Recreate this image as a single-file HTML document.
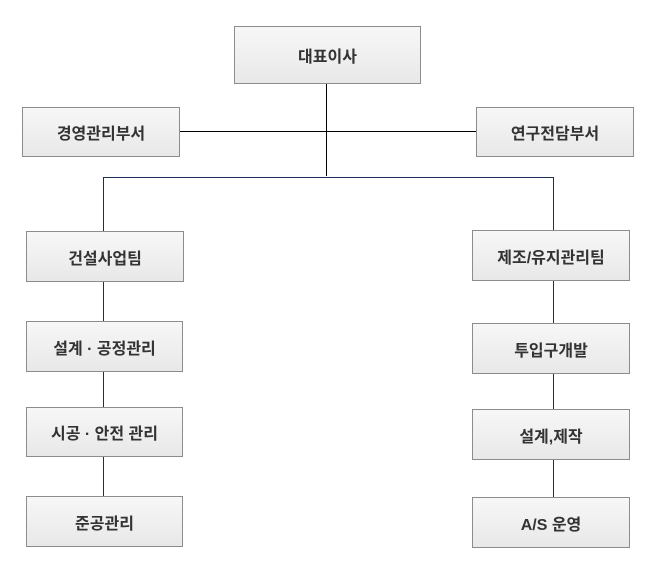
<!DOCTYPE html>
<html><head><meta charset="utf-8"><style>
body{margin:0;width:657px;height:561px;background:#fff;position:relative;overflow:hidden;font-family:"Liberation Sans","Noto Sans CJK KR","NanumGothic",sans-serif}
.b{position:absolute;box-sizing:border-box;border:1px solid #8c8c8c;background:linear-gradient(#f7f7f7,#e8e8e8);display:flex;align-items:center;justify-content:center;font-weight:bold;font-size:16px;color:#333}
.l{position:absolute}
</style></head><body>
<div class="l" style="left:326px;top:84px;width:1px;height:92px;background:#000"></div>
<div class="l" style="left:179px;top:131px;width:297px;height:1px;background:#000"></div>
<div class="l" style="left:103px;top:177px;width:451px;height:1px;background:#1f2d5a"></div>
<div class="l" style="left:103px;top:177px;width:1px;height:320px;background:#1f2d5a"></div>
<div class="l" style="left:553px;top:177px;width:1px;height:320px;background:#1f2d5a"></div>
<div class="b" style="left:234px;top:26px;width:187px;height:58px">대표이사</div>
<div class="b" style="left:22px;top:107px;width:158px;height:50px">경영관리부서</div>
<div class="b" style="left:476px;top:107px;width:158px;height:50px">연구전담부서</div>
<div class="b" style="left:26px;top:231px;width:158px;height:51px">건설사업팀</div>
<div class="b" style="left:472px;top:230px;width:158px;height:51px">제조/유지관리팀</div>
<div class="b" style="left:26px;top:321px;width:157px;height:51px">설계 · 공정관리</div>
<div class="b" style="left:26px;top:407px;width:157px;height:50px">시공 · 안전 관리</div>
<div class="b" style="left:26px;top:496px;width:157px;height:51px">준공관리</div>
<div class="b" style="left:472px;top:323px;width:158px;height:51px">투입구개발</div>
<div class="b" style="left:472px;top:409px;width:158px;height:51px">설계,제작</div>
<div class="b" style="left:472px;top:497px;width:158px;height:51px">A/S 운영</div>
</body></html>
